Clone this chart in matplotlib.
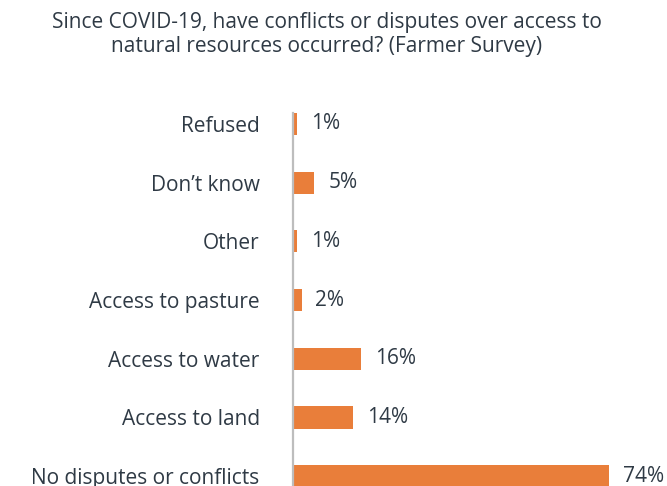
import matplotlib
matplotlib.use('Agg')
import matplotlib.pyplot as plt

plt.rcParams['font.family'] = ['Open Sans', 'DejaVu Sans']

# ── data ────────────────────────────────────────────────────────────────────
categories = ['Refused', 'Don\u2019t know', 'Other', 'Access to pasture',
              'Access to water', 'Access to land', 'No disputes or conflicts']
shares = [1, 5, 1, 2, 16, 14, 74]
title = ('Since COVID-19, have conflicts or disputes over access to\n'
         'natural resources occurred? (Farmer Survey)')

BAR_COLOR  = '#E97E3A'
TEXT_COLOR = '#2F3A45'
AXIS_COLOR = '#BDBDBD'

# ── figure ──────────────────────────────────────────────────────────────────
W, H = 667, 486
fig = plt.figure(figsize=(W / 100, H / 100), dpi=100)
ax = fig.add_axes([293 / W, 0, (W - 293) / W, (H - 113) / H])

ypos = list(range(len(categories)))
ax.barh(ypos, shares, height=0.375, color=BAR_COLOR, zorder=2)

# 1 unit on y ~ 58.7 px, first bar top flush with the axis top
ax.set_xlim(0, 87.5)
ax.set_ylim(6.167, -0.187)

ax.set_yticks(ypos)
ax.set_yticklabels(categories, fontsize=15, color=TEXT_COLOR)
ax.tick_params(axis='y', length=0, pad=24)
ax.set_xticks([])

for side in ('top', 'right', 'bottom'):
    ax.spines[side].set_visible(False)
ax.spines['left'].set_color(AXIS_COLOR)
ax.spines['left'].set_linewidth(1.6)
ax.spines['left'].set_zorder(3)

# value labels next to each bar
for y, v in zip(ypos, shares):
    ax.annotate(f'{v}%', xy=(v, y), xytext=(10, 0), textcoords='offset points',
                va='center', ha='left', fontsize=15, color=TEXT_COLOR,
                annotation_clip=False)

fig.text(0.49, 1 - 12 / H, title, ha='center', va='top', fontsize=15,
         color=TEXT_COLOR, linespacing=1.2)

fig.savefig('out.png', dpi=100)
